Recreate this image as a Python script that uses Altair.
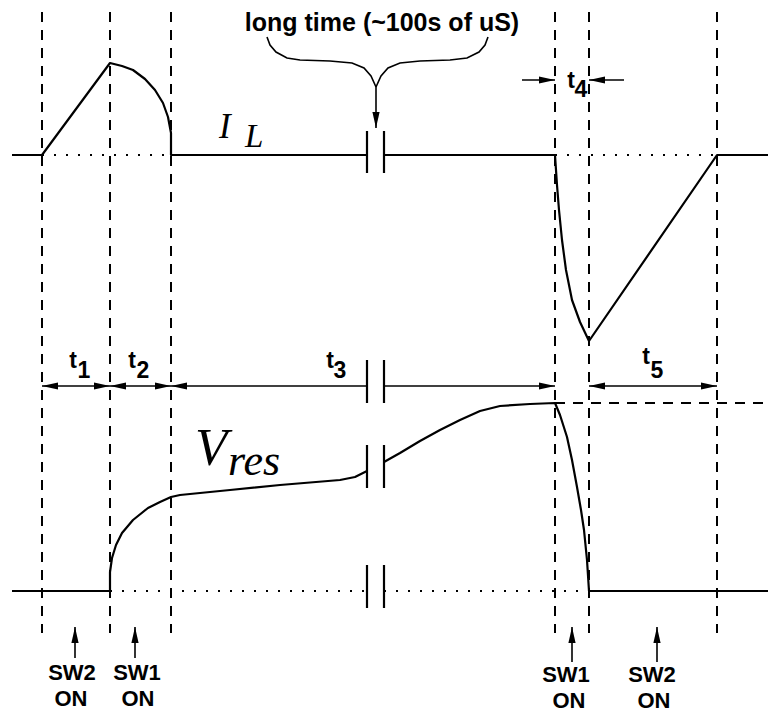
import altair as alt
import pandas as pd

# ---------------- values (figure units) ----------------
# switching instants (dashed verticals)
T_MARKS = [42, 110, 171, 555, 589, 717]
DASH_SPAN = [12, 633]

# inductor current I_L : two traced pieces (before / after the time break)
IL_A_T = [12, 42, 110, 122, 133, 145, 155, 163, 168, 171, 171, 367]
IL_A_V = [155, 155, 63, 66, 70, 79, 90, 103, 117, 133, 155, 155]
IL_B_T = [384, 555, 557, 559, 562, 566, 572, 580, 589, 717, 776]
IL_B_V = [155, 155, 185, 210, 240, 270, 300, 322, 341, 155, 155]

# resonant voltage V_res
VR_A_T = [12, 110, 110, 112, 116, 122, 133, 148, 160, 171, 180, 230, 280, 340, 355, 367]
VR_A_V = [591, 591, 572, 558, 545, 533, 520, 508, 502, 497, 495, 490, 485, 480, 477, 471]
VR_B_T = [384, 400, 420, 440, 460, 480, 500, 530, 555, 560, 567, 572, 577, 581, 584, 587, 589, 776]
VR_B_V = [462, 453, 441, 430, 420, 411, 406, 404, 403, 415, 437, 460, 487, 510, 530, 560, 591, 591]

# zero / reference levels
IL_ZERO = 155
VR_ZERO = 591
VR_HOLD = 403

# time-break ("||") positions and the rows they cut
BREAK_T = [367, 384]
BREAK_ROWS = [(131, 173), (360, 403), (445, 488), (565, 608)]

# interval arrows row
T_ROW = 386
T_INTERVALS = [(42, 110), (110, 171), (171, 367), (384, 555), (589, 717)]
T4_ROW = 80

# curly brace of the "long time" note
BRACE_L_T = [267, 270, 276, 287, 300, 330, 352, 364, 371, 376]
BRACE_L_V = [37, 45, 52, 58, 60, 61, 63, 68, 76, 87]
BRACE_R_T = [488, 485, 479, 467, 450, 420, 400, 388, 381, 376]
BRACE_R_V = [37, 45, 52, 58, 60, 61, 63, 68, 76, 87]

# switch annotations
SW_ARROWS = [(75, 627, 658), (135, 627, 658), (572, 627, 662), (657, 627, 662)]
SW_TEXT = ["SW2", "ON", "SW1", "ON", "SW1", "ON", "SW2", "ON"]
SW_TX = [72, 71, 137, 138, 566, 569, 652, 654]
SW_TY = [680, 706, 680, 706, 682, 708, 682, 708]
SW_SIZE = [22, 22, 22, 22, 22, 22, 22, 22]

# interval labels
TL_TEXT = ["t", "1", "t", "2", "t", "3", "t", "5", "t", "4"]
TL_X = [73, 84, 132, 143, 330, 340, 646, 657, 571, 581]
TL_Y = [368, 378, 368, 378, 368, 378, 364, 378, 88, 97]

NOTE = "long time (~100s of uS)"

# ---------------- build tables ----------------
def line_df(pieces):
    rows = []
    for k, (ts, vs) in enumerate(pieces):
        for i, (a, b) in enumerate(zip(ts, vs)):
            rows.append({"seg": k, "i": i, "x": a, "y": b})
    return pd.DataFrame(rows)

traces = line_df([(IL_A_T, IL_A_V), (IL_B_T, IL_B_V), (VR_A_T, VR_A_V), (VR_B_T, VR_B_V)])
brace = line_df([(BRACE_L_T, BRACE_L_V), (BRACE_R_T, BRACE_R_V)])

dashed = pd.DataFrame(
    [{"x": t, "x2": t, "y": DASH_SPAN[0], "y2": DASH_SPAN[1]} for t in T_MARKS]
    + [{"x": T_MARKS[3], "x2": 776, "y": VR_HOLD, "y2": VR_HOLD}]
)
dotted = pd.DataFrame([
    {"x": T_MARKS[0], "x2": T_MARKS[2], "y": IL_ZERO, "y2": IL_ZERO},
    {"x": T_MARKS[3], "x2": T_MARKS[5], "y": IL_ZERO, "y2": IL_ZERO},
    {"x": T_MARKS[1], "x2": BREAK_T[0], "y": VR_ZERO, "y2": VR_ZERO},
    {"x": BREAK_T[1], "x2": T_MARKS[4], "y": VR_ZERO, "y2": VR_ZERO},
])
breaks = pd.DataFrame([{"x": b, "x2": b, "y": r[0], "y2": r[1]} for b in BREAK_T for r in BREAK_ROWS])

thin = [{"x": a, "x2": b, "y": T_ROW, "y2": T_ROW} for a, b in T_INTERVALS]
thin += [{"x": 522, "x2": T_MARKS[3], "y": T4_ROW, "y2": T4_ROW},
         {"x": T_MARKS[4], "x2": 624, "y": T4_ROW, "y2": T4_ROW},
         {"x": 376, "x2": 376, "y": 87, "y2": 128}]
thin += [{"x": a, "x2": a, "y": b, "y2": c} for a, b, c in SW_ARROWS]
thin = pd.DataFrame(thin)

heads = []
for a, b in T_INTERVALS:
    if a != BREAK_T[1]:
        heads.append({"x": a, "y": T_ROW, "a": 180})
    if b != BREAK_T[0]:
        heads.append({"x": b, "y": T_ROW, "a": 0})
heads += [{"x": T_MARKS[3], "y": T4_ROW, "a": 0}, {"x": T_MARKS[4], "y": T4_ROW, "a": 180},
          {"x": 376, "y": 128, "a": 90}]
heads += [{"x": a, "y": b, "a": 270} for a, b, c in SW_ARROWS]
heads = pd.DataFrame(heads)

sans = pd.DataFrame(
    [{"x": x, "y": y, "t": t, "s": 23} for t, x, y in zip(TL_TEXT, TL_X, TL_Y)]
    + [{"x": x, "y": y, "t": t, "s": s} for t, x, y, s in zip(SW_TEXT, SW_TX, SW_TY, SW_SIZE)]
    + [{"x": 382, "y": 31, "t": NOTE, "s": 25}]
)
serif = pd.DataFrame([
    {"x": 219, "y": 138, "t": "I", "s": 35},
    {"x": 245, "y": 147, "t": "L", "s": 33},
    {"x": 195, "y": 465, "t": "V", "s": 53},
    {"x": 228, "y": 475, "t": "res", "s": 44},
])

# ---------------- encodings ----------------
# the page has an 8px margin: the plot spans figure units 8..768 (x) and 8..712 (y)
xs = alt.Scale(domain=[8, 768], nice=False, zero=False)
ys = alt.Scale(domain=[8, 712], nice=False, zero=False, reverse=True)
X = alt.X("x:Q", scale=xs, axis=None)
Y = alt.Y("y:Q", scale=ys, axis=None)
X2 = alt.X2("x2:Q")
Y2 = alt.Y2("y2:Q")

trace_layer = alt.Chart(traces).mark_line(color="black", strokeWidth=2.2, strokeJoin="round").encode(
    x=X, y=Y, detail="seg:N", order="i:Q")
brace_layer = alt.Chart(brace).mark_line(color="black", strokeWidth=1.6).encode(
    x=X, y=Y, detail="seg:N", order="i:Q")
dash_layer = alt.Chart(dashed).mark_rule(color="black", strokeWidth=2, strokeDash=[10, 8]).encode(
    x=X, x2=X2, y=Y, y2=Y2)
dot_layer = alt.Chart(dotted).mark_rule(color="black", strokeWidth=2, strokeDash=[2, 10]).encode(
    x=X, x2=X2, y=Y, y2=Y2)
break_layer = alt.Chart(breaks).mark_rule(color="black", strokeWidth=2.2).encode(
    x=X, x2=X2, y=Y, y2=Y2)
thin_layer = alt.Chart(thin).mark_rule(color="black", strokeWidth=1.6).encode(
    x=X, x2=X2, y=Y, y2=Y2)
head_layer = alt.Chart(heads).mark_point(
    shape="M0,0 L-2,-0.45 L-2,0.45 Z", filled=True, color="black", opacity=1, strokeWidth=0
).encode(x=X, y=Y, angle=alt.Angle("a:Q", scale=None), size=alt.value(256))
sans_layer = alt.Chart(sans).mark_text(
    font="Liberation Sans", fontWeight="bold", align="center", baseline="alphabetic", color="black"
).encode(x=X, y=Y, text="t:N", size=alt.Size("s:Q", scale=None))
serif_layer = alt.Chart(serif).mark_text(
    font="Liberation Serif", fontStyle="italic", align="left", baseline="alphabetic", color="black"
).encode(x=X, y=Y, text="t:N", size=alt.Size("s:Q", scale=None))

chart = alt.layer(
    dash_layer, dot_layer, trace_layer, break_layer, thin_layer, brace_layer, head_layer,
    sans_layer, serif_layer
).properties(
    width=760, height=704, padding=0, autosize="none", background="white"
).configure_view(stroke=None)

chart.save("out.html", embed_options={"renderer": "svg", "actions": False})
